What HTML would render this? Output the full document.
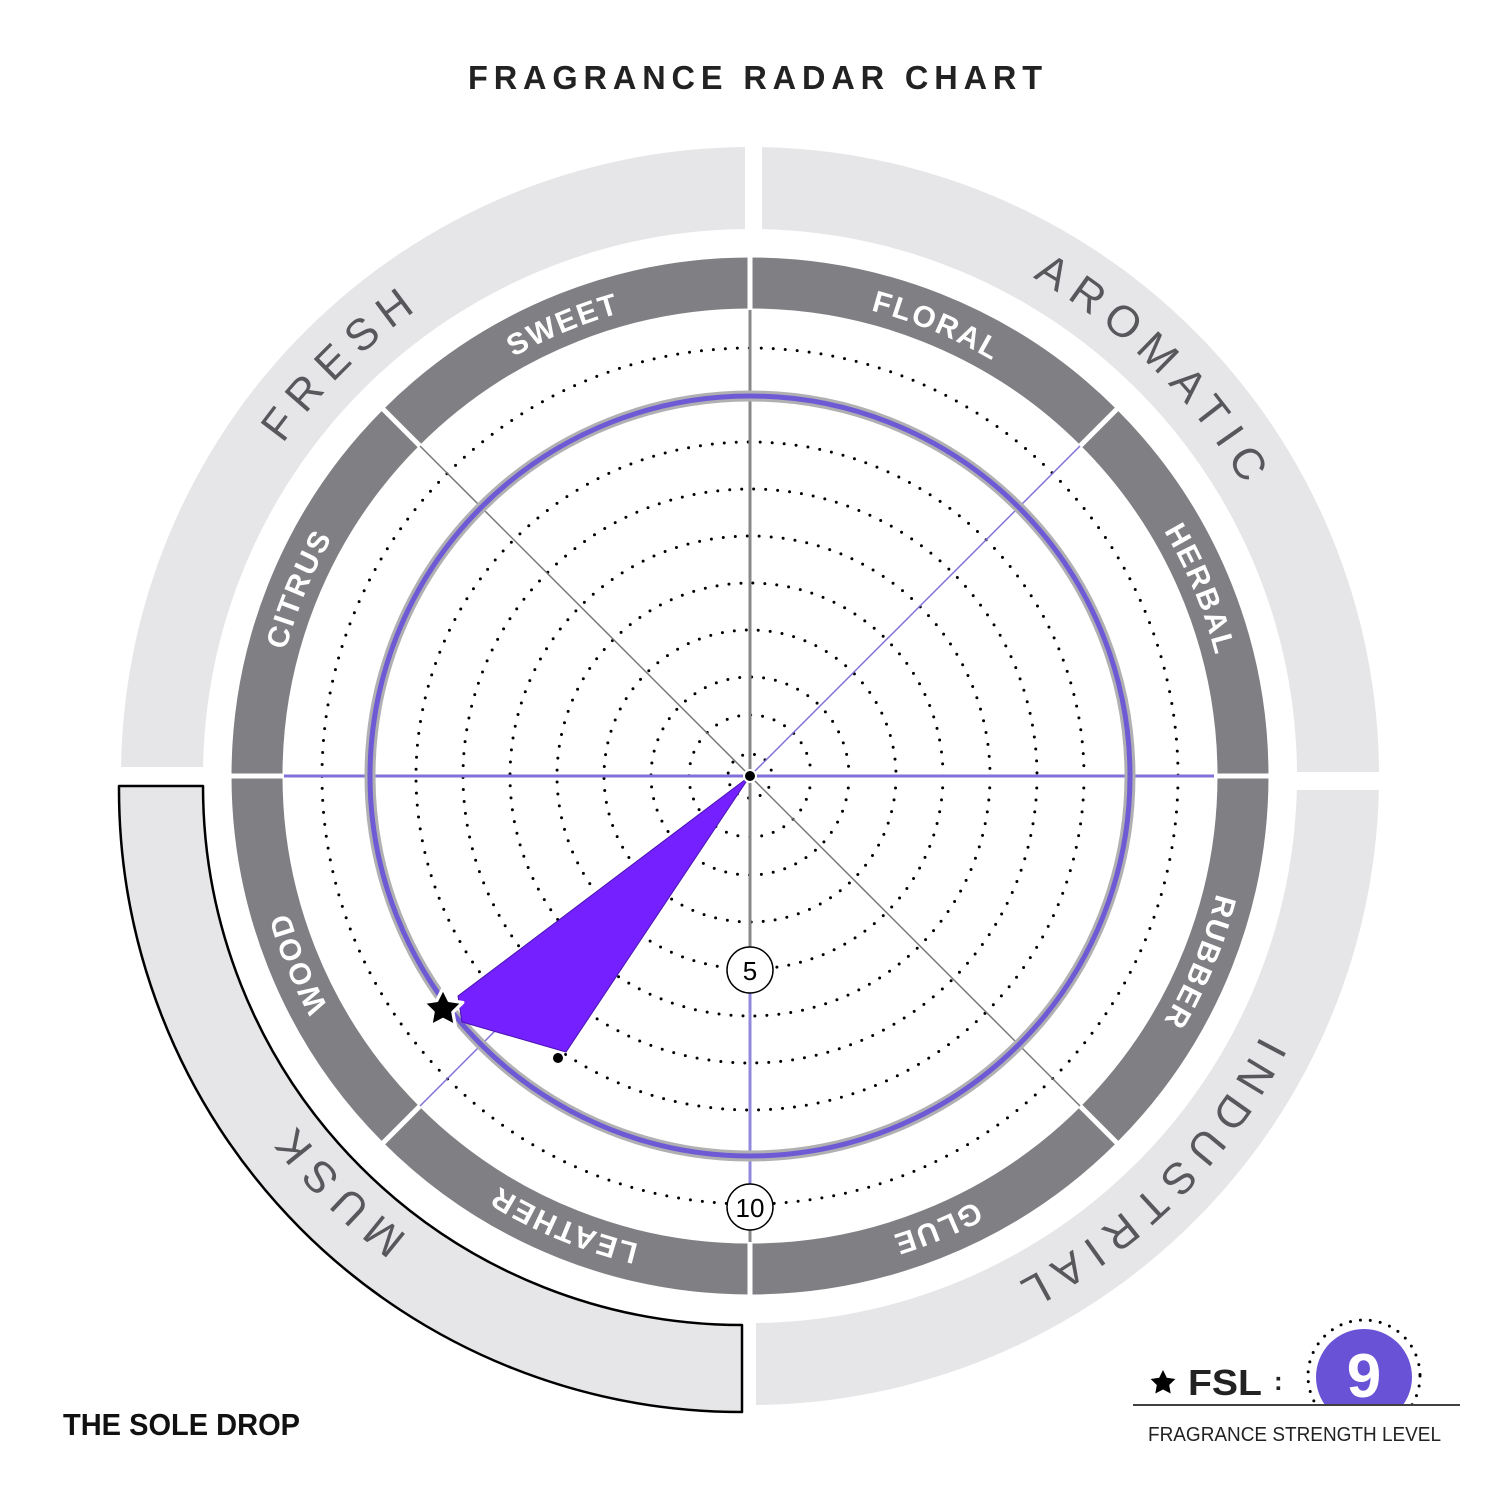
<!DOCTYPE html>
<html><head><meta charset="utf-8"><style>
html,body{margin:0;padding:0;background:#fff}
svg{display:block}
</style></head><body>
<svg width="1500" height="1500" viewBox="0 0 1500 1500" xmlns="http://www.w3.org/2000/svg" font-family="'Liberation Sans', 'DejaVu Sans', sans-serif">
<defs>
<clipPath id="qTL"><rect x="0" y="0" width="745" height="767"/></clipPath>
<clipPath id="qTR"><rect x="762" y="0" width="800" height="772"/></clipPath>
<clipPath id="qBR"><rect x="756" y="790" width="800" height="800"/></clipPath>
<path id="cIn" d="M750,295 A481,481 0 1 1 750,1257 A481,481 0 1 1 750,295"/>
<path id="cOut" d="M750,203 A573,573 0 1 1 750,1349 A573,573 0 1 1 750,203"/>
</defs>
<rect width="1500" height="1500" fill="#fff"/>
<text x="468" y="89" textLength="580" lengthAdjust="spacingAndGlyphs" font-size="33" font-weight="bold" letter-spacing="6" fill="#222">FRAGRANCE RADAR CHART</text>

<g fill="#e6e6e8" fill-rule="evenodd">
<path clip-path="url(#qTL)" d="M750,147 A629,629 0 1 1 750,1405 A629,629 0 1 1 750,147 Z M750,229 A547,547 0 1 0 750,1323 A547,547 0 1 0 750,229 Z"/>
<path clip-path="url(#qTR)" d="M750,147 A629,629 0 1 1 750,1405 A629,629 0 1 1 750,147 Z M750,229 A547,547 0 1 0 750,1323 A547,547 0 1 0 750,229 Z"/>
<path clip-path="url(#qBR)" d="M750,147 A629,629 0 1 1 750,1405 A629,629 0 1 1 750,147 Z M750,229 A547,547 0 1 0 750,1323 A547,547 0 1 0 750,229 Z"/>
</g>
<path d="M119,786 L203,786 A539,539 0 0 0 742,1325 L742,1412 A623,623 0 0 1 119,786 Z" fill="#e6e6e8" stroke="#000" stroke-width="2.5" stroke-linejoin="round"/>

<circle cx="750" cy="776" r="493" fill="none" stroke="#808084" stroke-width="51"/>
<g stroke="#fff" stroke-width="5">
<line x1="750" y1="250" x2="750" y2="310"/><line x1="750" y1="1242" x2="750" y2="1302"/>
<line x1="224" y1="776" x2="284" y2="776"/><line x1="1216" y1="776" x2="1276" y2="776"/>
<line x1="378" y1="404" x2="420" y2="446"/><line x1="1122" y1="404" x2="1080" y2="446"/>
<line x1="378" y1="1148" x2="420" y2="1106"/><line x1="1122" y1="1148" x2="1080" y2="1106"/>
</g>
<g fill="#fff" font-size="30" font-weight="bold" letter-spacing="2">
<text><textPath href="#cIn" startOffset="93.75%" text-anchor="middle">SWEET</textPath></text>
<text><textPath href="#cIn" startOffset="6.25%" text-anchor="middle">FLORAL</textPath></text>
<text><textPath href="#cIn" startOffset="18.75%" text-anchor="middle">HERBAL</textPath></text>
<text><textPath href="#cIn" startOffset="31.25%" text-anchor="middle">RUBBER</textPath></text>
<text><textPath href="#cIn" startOffset="43.75%" text-anchor="middle">GLUE</textPath></text>
<text><textPath href="#cIn" startOffset="56.25%" text-anchor="middle">LEATHER</textPath></text>
<text><textPath href="#cIn" startOffset="68.75%" text-anchor="middle">WOOD</textPath></text>
<text><textPath href="#cIn" startOffset="81.25%" text-anchor="middle">CITRUS</textPath></text>
</g>
<g fill="#58585c" font-size="44" letter-spacing="10">
<text><textPath href="#cOut" startOffset="87.6%" text-anchor="middle">FRESH</textPath></text>
<text><textPath href="#cOut" startOffset="12.5%" text-anchor="middle">AROMATIC</textPath></text>
<text><textPath href="#cOut" startOffset="37.5%" text-anchor="middle">INDUSTRIAL</textPath></text>
<text><textPath href="#cOut" startOffset="62.5%" text-anchor="middle">MUSK</textPath></text>
</g>

<g fill="none" stroke="#000" stroke-width="3" stroke-dasharray="0 12" stroke-linecap="round">
<circle cx="750" cy="776" r="22"/><circle cx="750" cy="776" r="61"/><circle cx="750" cy="776" r="99"/>
<circle cx="750" cy="776" r="146"/><circle cx="750" cy="776" r="193"/><circle cx="750" cy="776" r="240"/>
<circle cx="750" cy="776" r="287"/><circle cx="750" cy="776" r="334"/><circle cx="750" cy="776" r="428"/>
</g>

<line x1="750" y1="310" x2="750" y2="776" stroke="#888" stroke-width="3"/>
<line x1="750" y1="776" x2="750" y2="960" stroke="#888" stroke-width="3"/>
<line x1="750" y1="990" x2="750" y2="1190" stroke="#9088dd" stroke-width="3"/>
<line x1="750" y1="1225" x2="750" y2="1242" stroke="#888" stroke-width="3"/>
<line x1="284" y1="776" x2="1214" y2="776" stroke="#8070d8" stroke-width="3"/>
<line x1="420" y1="446" x2="1080" y2="1106" stroke="#777" stroke-width="1.5"/>
<line x1="1080" y1="446" x2="420" y2="1106" stroke="#8070d8" stroke-width="1.5"/>

<circle cx="750" cy="776" r="380" fill="none" stroke="#b0b0b2" stroke-width="11"/>
<circle cx="750" cy="776" r="380" fill="none" stroke="#6e5ad4" stroke-width="5"/>

<polygon points="750,776 458,996 462,1022 566,1052" fill="#7420ff" stroke="#4a14b0" stroke-width="1"/>
<circle cx="750" cy="776" r="6" fill="#000" stroke="#fff" stroke-width="2"/>
<circle cx="558" cy="1058" r="6" fill="#000" stroke="#fff" stroke-width="2"/>
<polygon transform="translate(443,1009) scale(1.1)" points="0,-19 5.6,-7.7 18,-5.9 9,2.9 11.2,15.4 0,9.5 -11.2,15.4 -9,2.9 -18,-5.9 -5.6,-7.7" fill="#000" stroke="#fff" stroke-width="3" stroke-linejoin="round"/>

<circle cx="750" cy="970" r="23" fill="#fff" stroke="#000" stroke-width="1.5"/>
<text x="750" y="980" text-anchor="middle" font-size="26" fill="#000">5</text>
<circle cx="750" cy="1207" r="23" fill="#fff" stroke="#000" stroke-width="1.5"/>
<text x="750" y="1217" text-anchor="middle" font-size="26" fill="#000">10</text>

<polygon transform="translate(1163,1383)" points="0,-13 3.8,-5.3 12.4,-4 6.2,2 7.7,10.5 0,6.5 -7.7,10.5 -6.2,2 -12.4,-4 -3.8,-5.3" fill="#000"/>
<text x="1188" y="1395" textLength="74" lengthAdjust="spacingAndGlyphs" font-size="36" font-weight="bold" fill="#222">FSL</text>
<text x="1274" y="1390" font-size="26" font-weight="bold" fill="#222">:</text>
<defs><clipPath id="fc"><rect x="1290" y="1300" width="150" height="104"/></clipPath></defs>
<g clip-path="url(#fc)">
<circle cx="1364" cy="1376" r="56" fill="none" stroke="#000" stroke-width="3" stroke-dasharray="0 10" stroke-linecap="round"/>
<circle cx="1364" cy="1377" r="48" fill="#6a52d6"/>
</g>
<text x="1364" y="1397" text-anchor="middle" font-size="62" font-weight="bold" fill="#fff">9</text>
<line x1="1133" y1="1405" x2="1460" y2="1405" stroke="#000" stroke-width="1.5"/>
<text x="1148" y="1441" textLength="293" lengthAdjust="spacingAndGlyphs" font-size="20" fill="#222">FRAGRANCE STRENGTH LEVEL</text>

<text x="63" y="1435" textLength="237" lengthAdjust="spacingAndGlyphs" font-size="31" font-weight="bold" fill="#111">THE SOLE DROP</text>
</svg>
</body></html>
